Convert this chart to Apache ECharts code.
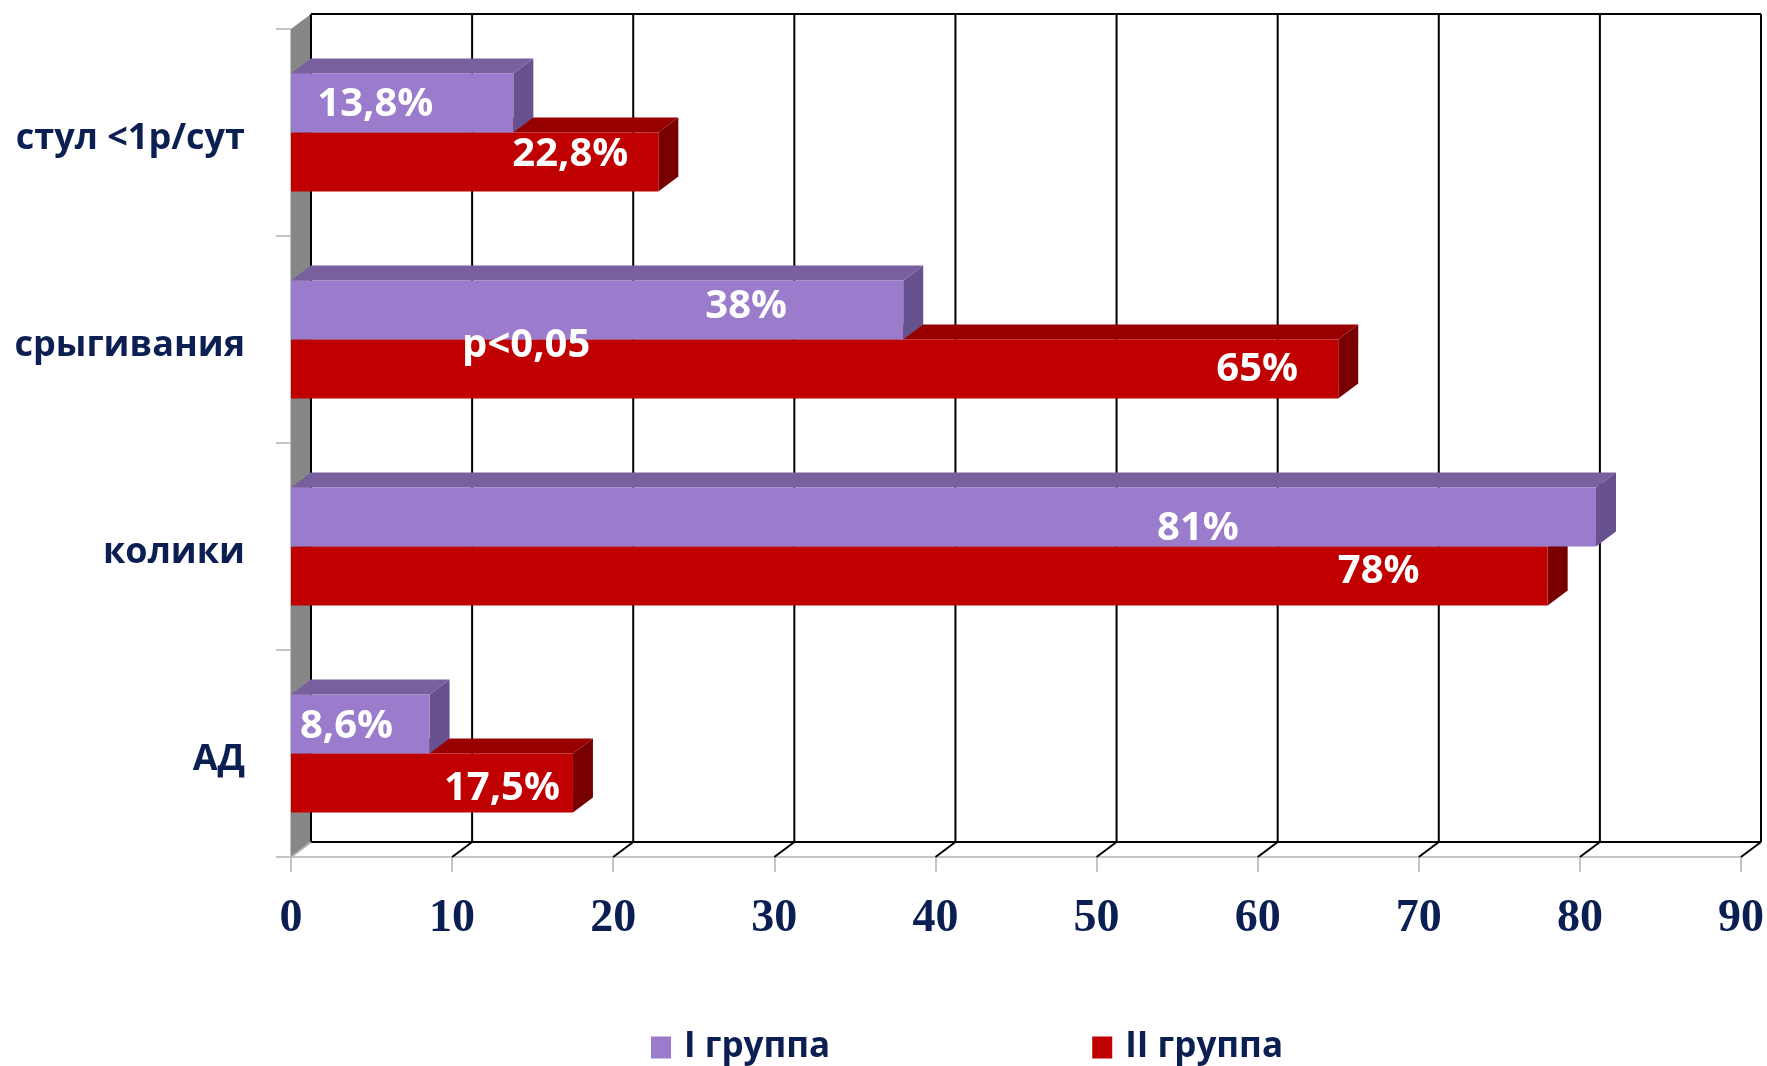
<!DOCTYPE html>
<html>
<head>
<meta charset="utf-8">
<script src="https://cdn.jsdelivr.net/npm/echarts@6/dist/echarts.min.js"></script>
<style>
  html, body { margin: 0; padding: 0; background: #ffffff; }
  #chart { width: 1767px; height: 1066px; }
</style>
</head>
<body>
<div id="chart"></div>
<script>
// Categories (top to bottom) and values, %
const categories = ['стул <1р/сут', 'срыгивания', 'колики', 'АД'];
const groupNames = ['I группа', 'II группа'];
const group1 = [13.8, 38, 81, 8.6];
const group2 = [22.8, 65, 78, 17.5];
const xTicks = [0, 10, 20, 30, 40, 50, 60, 70, 80, 90];

// Significance note placed on the "срыгивания" row
const noteText = 'p<0,05';
const noteValue = 14.6;
const noteCategory = 'срыгивания';

// Styling
const NAVY = '#0c1f52';
const DEPTH = [20, 15];           // 3D depth offset (right, up), px
const BAR_SHARE = 0.285;          // bar thickness as share of a category band
const faces1 = { front: '#9a7bcc', top: '#785f9d', side: '#67528f' };
const faces2 = { front: '#c00000', top: '#980000', side: '#790000' };
// value-label nudges from the bar end / bar middle, px
const labelShift1 = [[-138, 2], [-157, -3], [-398, 12], [-83, 3]];
const labelShift2 = [[-88, -7], [-81, 1], [-169, -4], [-71, 6]];

const fmt = v => String(v).replace('.', ',') + '%';

function barRenderer(upper, faces, shifts) {
  return function (params, api) {
    const v = api.value(0);
    const ci = api.value(1);
    const end = api.coord([v, ci]);
    const start = api.coord([0, ci]);
    const band = api.size([0, 1])[1];
    const h = band * BAR_SHARE;
    const yTop = upper ? end[1] - h : end[1];
    const yBot = yTop + h;
    const x0 = start[0], x1 = end[0];
    const dx = DEPTH[0], dy = DEPTH[1];
    const sh = shifts[params.dataIndex];
    return {
      type: 'group',
      children: [
        { type: 'polygon', shape: { points: [[x0, yTop], [x0 + dx, yTop - dy], [x1 + dx, yTop - dy], [x1, yTop]] },
          style: { fill: faces.top } },
        { type: 'polygon', shape: { points: [[x1, yTop], [x1 + dx, yTop - dy], [x1 + dx, yBot - dy], [x1, yBot]] },
          style: { fill: faces.side } },
        { type: 'rect', shape: { x: x0, y: yTop, width: x1 - x0, height: h },
          style: { fill: faces.front } },
        { type: 'text', x: x1 + sh[0], y: (yTop + yBot) / 2 + sh[1],
          style: { text: fmt(v), fill: '#ffffff', font: 'bold 40px "Open Sans"',
                   textAlign: 'center', textVerticalAlign: 'middle', align: 'center', verticalAlign: 'middle' } }
      ]
    };
  };
}

// Walls and floor of the 3D box
function frameRenderer(params, api) {
  const cs = params.coordSys;
  const dx = DEPTH[0], dy = DEPTH[1];
  const top = cs.y, bot = cs.y + cs.height;
  const xs = xTicks.map(t => api.coord([t, 0])[0]);
  const xL = xs[0], xR = xs[xs.length - 1];
  const children = [];
  children.push({ type: 'polygon',
    shape: { points: [[xL, top], [xL + dx, top - dy], [xL + dx, bot - dy], [xL, bot]] },
    style: { fill: '#878787' } });
  xs.forEach(x => {
    children.push({ type: 'line', shape: { x1: x + dx, y1: top - dy, x2: x + dx, y2: bot - dy },
      style: { stroke: '#000000', lineWidth: 2 } });
  });
  children.push({ type: 'line', shape: { x1: xL + dx, y1: top - dy, x2: xR + dx, y2: top - dy },
    style: { stroke: '#000000', lineWidth: 2 } });
  children.push({ type: 'line', shape: { x1: xL + dx, y1: bot - dy, x2: xR + dx, y2: bot - dy },
    style: { stroke: '#000000', lineWidth: 2 } });
  xs.forEach((x, i) => {
    children.push({ type: 'line', shape: { x1: x + dx, y1: bot - dy, x2: x, y2: bot },
      style: { stroke: i === 0 ? '#b0b0b0' : '#000000', lineWidth: 2 } });
  });
  return { type: 'group', children };
}

const chart = echarts.init(document.getElementById('chart'), null, { renderer: 'canvas' });

chart.setOption({
  animation: false,
  backgroundColor: '#ffffff',
  grid: { left: 291, right: 25, top: 29, bottom: 209, containLabel: false },
  legend: {
    data: groupNames,
    left: 651,
    top: 1030,
    padding: 0,
    icon: 'rect',
    itemWidth: 20,
    itemHeight: 22,
    itemGap: 262,
    textStyle: { color: NAVY, fontFamily: 'Open Sans', fontWeight: 'bold', fontSize: 35, padding: [0, 0, 0, 8] }
  },
  xAxis: {
    type: 'value',
    min: 0,
    max: 90,
    interval: 10,
    axisLine: { show: true, lineStyle: { color: '#c4c4c4', width: 2 } },
    axisTick: { show: true, length: 15, lineStyle: { color: '#c4c4c4', width: 2 } },
    splitLine: { show: false },
    axisLabel: {
      margin: 39,
      color: NAVY,
      fontFamily: 'Liberation Serif',
      fontWeight: 'bold',
      fontSize: 46,
      formatter: v => String(v)
    }
  },
  yAxis: {
    type: 'category',
    data: categories,
    inverse: true,
    axisLine: { show: true, lineStyle: { color: '#c4c4c4', width: 2 } },
    axisTick: { show: true, length: 15, lineStyle: { color: '#c4c4c4', width: 2 } },
    splitLine: { show: false },
    axisLabel: {
      margin: 46,
      formatter: v => '{c|' + v + '}',
      rich: {
        c: {
          color: NAVY,
          fontFamily: 'Open Sans',
          fontWeight: 'bold',
          fontSize: 36,
          padding: [12, 0, 0, 0]
        }
      }
    }
  },
  series: [
    {
      type: 'custom',
      name: 'frame',
      z: 1,
      silent: true,
      renderItem: frameRenderer,
      data: [[0, 0]]
    },
    {
      type: 'custom',
      name: groupNames[1],
      z: 2,
      itemStyle: { color: faces2.front },
      renderItem: barRenderer(false, faces2, labelShift2),
      encode: { x: 0, y: 1 },
      data: group2.map((v, i) => [v, i])
    },
    {
      type: 'custom',
      name: groupNames[0],
      z: 3,
      itemStyle: { color: faces1.front },
      renderItem: barRenderer(true, faces1, labelShift1),
      encode: { x: 0, y: 1 },
      data: group1.map((v, i) => [v, i])
    },
    {
      type: 'scatter',
      name: 'note',
      z: 5,
      silent: true,
      symbolSize: 0,
      itemStyle: { opacity: 1 },
      data: [[noteValue, categories.indexOf(noteCategory)]],
      label: {
        show: true,
        position: 'inside',
        offset: [0, 6],
        formatter: noteText,
        color: '#ffffff',
        opacity: 1,
        fontFamily: 'Open Sans',
        fontWeight: 'bold',
        fontSize: 40
      }
    }
  ]
});
</script>
</body>
</html>
